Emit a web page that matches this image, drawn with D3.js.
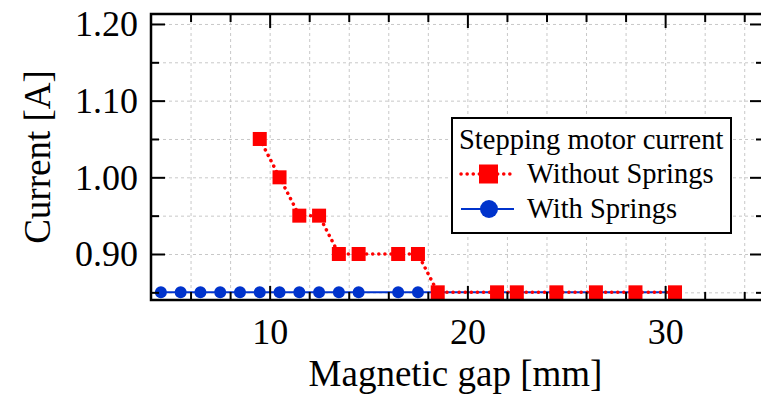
<!DOCTYPE html>
<html>
<head>
<meta charset="utf-8">
<script src="https://cdn.jsdelivr.net/npm/d3@7"></script>
<style>
  body { margin: 0; background: #fff; }
  svg { display: block; font-family: "Liberation Serif", "Times New Roman", serif; }
  .grid line { stroke: #c8c8c8; stroke-width: 1; stroke-dasharray: 3,3; }
  .grid path { display: none; }
  .frame path { display: none; }
  .frame line { stroke: #000; stroke-width: 2; }
  .frame text { font-size: 36px; fill: #000; font-family: "Liberation Serif", "Times New Roman", serif; }
</style>
</head>
<body>
<svg id="chart"></svg>
<script>
// data
const xMajor = [10, 20, 30];
const xMinor = [6, 8, 12, 14, 16, 18, 22, 24, 26, 28, 32, 34];
const yMajor = [0.90, 1.00, 1.10, 1.20];
const yMinor = [0.85, 0.95, 1.05, 1.15];

const noSpringX = [9.5, 10.5, 11.5, 12.5, 13.5, 14.5, 16.5, 17.5, 18.5, 21.5, 22.5, 24.5, 26.5, 28.5, 30.5];
const noSpringY = [1.05, 1.00, 0.95, 0.95, 0.90, 0.90, 0.90, 0.90, 0.85, 0.85, 0.85, 0.85, 0.85, 0.85, 0.85];
const springX = [4.5, 5.5, 6.5, 7.5, 8.5, 9.5, 10.5, 11.5, 12.5, 13.5, 14.5, 16.5, 17.5, 18.5, 21.5, 22.5, 24.5, 26.5, 28.5, 30.5];
const springY = [0.85, 0.85, 0.85, 0.85, 0.85, 0.85, 0.85, 0.85, 0.85, 0.85, 0.85, 0.85, 0.85, 0.85, 0.85, 0.85, 0.85, 0.85, 0.85, 0.85];

const legendTitle = "Stepping motor current";
const seriesNames = ["Without Springs", "With Springs"];
const xTitle = "Magnetic gap [mm]";
const yTitle = "Current [A]";

const width = 761, height = 399;
const pLeft = 151, pRight = 764, pTop = 14, pBottom = 300;
const red = "#ff0000", blue = "#0033cc";

const svg = d3.select("#chart").attr("width", width).attr("height", height);

const x = d3.scaleLinear().domain([4, 35]).range([pLeft, pRight]);
const y = d3.scaleLinear().domain([0.84, 1.213]).range([pBottom, pTop]);

// grid
svg.append("g").attr("class", "grid")
    .attr("transform", `translate(0,${pBottom})`)
    .call(d3.axisBottom(x).tickValues(xMajor.concat(xMinor)).tickSize(-(pBottom - pTop)).tickFormat(""));
svg.append("g").attr("class", "grid")
    .attr("transform", `translate(${pLeft},0)`)
    .call(d3.axisLeft(y).tickValues(yMajor.concat(yMinor)).tickSize(-(pRight - pLeft)).tickFormat(""));

// series
const noSpring = noSpringX.map((v, i) => [v, noSpringY[i]]);
const spring = springX.map((v, i) => [v, springY[i]]);
const line = d3.line().x(d => x(d[0])).y(d => y(d[1]));

svg.append("path").datum(spring)
    .attr("d", line).attr("fill", "none")
    .attr("stroke", blue).attr("stroke-width", 2);
svg.append("g").selectAll("circle").data(spring).join("circle")
    .attr("cx", d => x(d[0])).attr("cy", d => y(d[1]))
    .attr("r", 6).attr("fill", blue);

svg.append("path").datum(noSpring)
    .attr("d", line).attr("fill", "none")
    .attr("stroke", red).attr("stroke-width", 3.5)
    .attr("stroke-linecap", "round").attr("stroke-dasharray", "0.1,6");
svg.append("g").selectAll("rect").data(noSpring).join("rect")
    .attr("x", d => x(d[0]) - 7).attr("y", d => y(d[1]) - 7)
    .attr("width", 14).attr("height", 14).attr("fill", red);

// frame with inward ticks
function frame(axis, tx, ty, values, size, labels) {
    const g = svg.append("g").attr("class", "frame")
        .attr("transform", `translate(${tx},${ty})`)
        .call(axis.tickValues(values).tickSize(size).tickFormat(labels ? labels : ""));
    return g;
}
frame(d3.axisBottom(x), 0, pBottom, xMajor, -14, d3.format("d"))
    .selectAll("text").attr("dy", null).attr("y", 44);
frame(d3.axisBottom(x), 0, pBottom, xMinor, -8);
frame(d3.axisTop(x), 0, pTop, xMajor, -14);
frame(d3.axisTop(x), 0, pTop, xMinor, -8);
frame(d3.axisLeft(y), pLeft, 0, yMajor, -14, d3.format(".2f"))
    .selectAll("text").attr("x", -13).attr("dy", "0.33em");
frame(d3.axisLeft(y), pLeft, 0, yMinor, -8);
frame(d3.axisRight(y), pRight, 0, yMajor, -14);
frame(d3.axisRight(y), pRight, 0, yMinor, -8);

svg.append("rect")
    .attr("x", pLeft).attr("y", pTop)
    .attr("width", pRight - pLeft).attr("height", pBottom - pTop)
    .attr("fill", "none").attr("stroke", "#000").attr("stroke-width", 2.5);

// axis titles
svg.append("text")
    .attr("x", (pLeft + pRight) / 2 - 2).attr("y", 386)
    .attr("text-anchor", "middle").attr("font-size", 37)
    .text(xTitle);
svg.append("text")
    .attr("transform", `translate(50,${(pTop + pBottom) / 2}) rotate(-90)`)
    .attr("text-anchor", "middle").attr("font-size", 37)
    .text(yTitle);

// legend
const lg = svg.append("g").attr("transform", "translate(452,118)");
lg.append("rect").attr("width", 279).attr("height", 115)
    .attr("fill", "#fff").attr("stroke", "#000").attr("stroke-width", 2);
lg.append("text").attr("x", 7).attr("y", 31).attr("font-size", 28.5).text(legendTitle);

const entries = [
    { name: seriesNames[0], color: red, dy: 56 },
    { name: seriesNames[1], color: blue, dy: 91 }
];
entries.forEach((e, i) => {
    const row = lg.append("g").attr("transform", `translate(0,${e.dy})`);
    const ln = row.append("line").attr("x1", 9).attr("x2", 62)
        .attr("stroke", e.color);
    if (i === 0) {
        ln.attr("stroke-width", 3.5).attr("stroke-linecap", "round").attr("stroke-dasharray", "0.1,6");
        row.append("rect").attr("x", 27).attr("y", -9.5).attr("width", 19).attr("height", 19).attr("fill", e.color);
    } else {
        ln.attr("stroke-width", 2);
        row.append("circle").attr("cx", 37).attr("r", 9).attr("fill", e.color);
    }
    row.append("text").attr("x", 75).attr("y", 9).attr("font-size", 28.5).text(e.name);
});
</script>
</body>
</html>
